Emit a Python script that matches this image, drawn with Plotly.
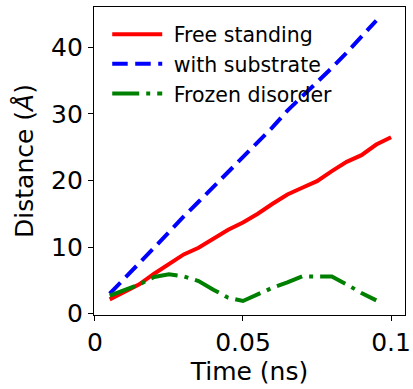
import plotly.graph_objects as go

time_red = [0.005, 0.01, 0.015, 0.02, 0.025, 0.03, 0.035, 0.04, 0.045, 0.05,
            0.055, 0.06, 0.065, 0.07, 0.075, 0.08, 0.085, 0.09, 0.095, 0.1]
free_standing = [2.15, 3.2, 4.4, 6.0, 7.5, 8.9, 9.9, 11.2, 12.6, 13.7,
                 15.0, 16.5, 17.9, 18.9, 19.9, 21.4, 22.8, 23.8, 25.4, 26.5]

time_other = [0.005, 0.01, 0.015, 0.02, 0.025, 0.03, 0.035, 0.04, 0.045, 0.05,
              0.055, 0.06, 0.065, 0.07, 0.075, 0.08, 0.085, 0.09, 0.095]
with_substrate = [3.0, 5.2, 7.6, 9.9, 12.3, 14.6, 16.8, 19.0, 21.3, 23.5,
                  25.8, 28.0, 30.5, 32.6, 34.6, 36.9, 39.2, 41.6, 44.0]
frozen_disorder = [2.7, 3.6, 4.4, 5.5, 5.9, 5.6, 4.9, 3.6, 2.4, 1.9,
                   2.9, 3.9, 4.7, 5.6, 5.6, 5.6, 4.4, 3.1, 2.0]

x_tickvals = [0, 0.05, 0.1]
x_ticktext = ["0", "0.05", "0.1"]
y_tickvals = [0, 10, 20, 30, 40]

fig = go.Figure()
fig.add_trace(go.Scatter(x=time_red, y=free_standing, mode="lines", name="\u00a0Free standing",
                         line=dict(color="red", width=4)))
fig.add_trace(go.Scatter(x=time_other, y=with_substrate, mode="lines", name="\u00a0with substrate",
                         line=dict(color="blue", width=4, dash="15.5px,7.5px")))
fig.add_trace(go.Scatter(x=time_other, y=frozen_disorder, mode="lines", name="\u00a0Frozen disorder",
                         line=dict(color="green", width=4, dash="27px,7px,4px,7px")))

axis_common = dict(showline=True, linecolor="black", linewidth=1.3, mirror=True,
                   ticks="outside", ticklen=5, tickwidth=1.3, tickcolor="black",
                   showgrid=False, zeroline=False, automargin=False,
                   tickfont=dict(family="DejaVu Sans", size=25, color="black"))

fig.update_layout(
    width=413, height=389,
    margin=dict(l=94, r=8, t=7, b=74, autoexpand=False),
    paper_bgcolor="white", plot_bgcolor="white",
    font=dict(family="DejaVu Sans", color="black"),
    xaxis=dict(range=[-0.0003, 0.1047], tickvals=x_tickvals, ticktext=x_ticktext,
               title=dict(text="Time (ns)", font=dict(size=25), standoff=6),
               **axis_common),
    yaxis=dict(range=[-0.2, 46.05], tickvals=y_tickvals,
               title=dict(text="Distance (<i>Å</i>)", font=dict(size=25), standoff=10),
               **axis_common),
    legend=dict(x=0.0425, y=0.976, xanchor="left", yanchor="top",
                font=dict(size=20.5, color="black"), bgcolor="rgba(255,255,255,0)",
                tracegroupgap=0, itemwidth=50),
    showlegend=True,
)

fig.write_html("out.html", post_script="document.body.style.margin='0';",
               config={"displayModeBar": False})
